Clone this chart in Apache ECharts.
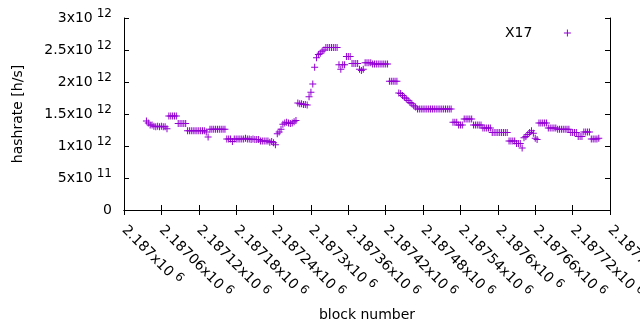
<!DOCTYPE html>
<html>
<head>
<meta charset="utf-8">
<script src="https://cdn.jsdelivr.net/npm/echarts@6/dist/echarts.min.js"></script>
<style>
html,body{margin:0;padding:0;background:#fff}
#chart{width:640px;height:330px}
</style>
</head>
<body>
<div id="chart"></div>
<script>
// block numbers: one sample every 3 blocks from firstBlock
var firstBlock = 2187036;
var blockStep = 3;
// hashrate in units of 10^12 h/s
var hashrate = [
	1.39, 1.36, 1.33, 1.33,
	1.31, 1.30, 1.31, 1.30, 1.31, 1.30, 1.30, 1.27,
	1.47, 1.47, 1.47, 1.47, 1.47,
	1.35, 1.35, 1.35, 1.35, 1.35,
	1.24, 1.24, 1.24, 1.24, 1.24, 1.24, 1.24, 1.24, 1.24, 1.24, 1.22, 1.14,
	1.26, 1.26, 1.26, 1.26, 1.26, 1.26, 1.26, 1.26, 1.26,
	1.11, 1.11, 1.11, 1.07, 1.11, 1.11, 1.11, 1.11, 1.11,
	1.11, 1.12, 1.11, 1.11, 1.10, 1.11, 1.10, 1.10, 1.10,
	1.08, 1.08, 1.08, 1.08, 1.08,
	1.06, 1.07, 1.05, 1.02,
	1.19, 1.22, 1.26,
	1.34, 1.36, 1.37, 1.36, 1.35, 1.36, 1.38, 1.40,
	1.67, 1.66, 1.66, 1.65, 1.65, 1.64,
	1.77, 1.84, 1.97, 2.23, 2.38, 2.43, 2.45, 2.48, 2.50,
	2.54, 2.54, 2.54, 2.54, 2.54, 2.54, 2.54,
	2.27, 2.20, 2.27, 2.27,
	2.40, 2.40, 2.40,
	2.29, 2.29, 2.29, 2.29,
	2.20, 2.18, 2.20,
	2.30, 2.30, 2.30, 2.30,
	2.28, 2.28, 2.28, 2.28, 2.28, 2.28, 2.28, 2.28, 2.28,
	2.01, 2.01, 2.01, 2.01, 2.01,
	1.83, 1.82, 1.79, 1.76, 1.74, 1.71, 1.68, 1.66, 1.63, 1.61,
	1.58, 1.58, 1.58, 1.58, 1.58, 1.58, 1.58, 1.58, 1.58, 1.58,
	1.58, 1.58, 1.58, 1.58, 1.58, 1.58, 1.58, 1.58, 1.58,
	1.37, 1.37, 1.37,
	1.33, 1.33, 1.33,
	1.42, 1.42, 1.42, 1.42, 1.42,
	1.33, 1.33, 1.33, 1.33, 1.33,
	1.28, 1.28, 1.28, 1.28, 1.28,
	1.21, 1.21, 1.21, 1.21, 1.21, 1.21, 1.21, 1.21, 1.21,
	1.08, 1.08, 1.08, 1.08,
	1.04, 1.04, 1.04, 0.97,
	1.13, 1.15, 1.18, 1.21, 1.24, 1.20, 1.12, 1.10,
	1.36, 1.36, 1.36, 1.36, 1.36,
	1.28, 1.28, 1.28, 1.28, 1.28,
	1.26, 1.26, 1.26, 1.26, 1.26, 1.26, 1.26,
	1.21, 1.21, 1.21, 1.21,
	1.15, 1.15, 1.15,
	1.22, 1.22, 1.22, 1.22,
	1.11, 1.11, 1.11, 1.11, 1.12
];
var seriesName = "X17";
var xMin = 2187000, xMax = 2187780, xStep = 60;
var yMin = 0, yMax = 3e12, yStep = 5e11;

var plusIcon = "path://M3,0h1v3h3v1h-3v3h-1v-3h-3v-1h3z";
var fontName = "DejaVu Sans";

// gnuplot style "2.5x10^12"
function sciLabel(v){
	if(v === 0) return "{b|0}";
	var e = Math.floor(Math.log10(v) + 1e-9);
	var m = parseFloat((v / Math.pow(10, e)).toFixed(6));
	return "{b|" + m + "x10}{s|" + e + "}";
}
var labelRich = {
	b:{fontFamily:fontName, fontSize:14, color:"#000", lineHeight:20},
	s:{fontFamily:fontName, fontSize:12, color:"#000", lineHeight:12, verticalAlign:"top", padding:[0,0,0,4]}
};

var points = [];
for(var i = 0; i < hashrate.length; i++){
	points.push([firstBlock + i * blockStep, hashrate[i] * 1e12]);
}

var dom = document.getElementById("chart");
var myChart = echarts.init(dom, null, {renderer:"canvas"});
var axisLine = {show:true, lineStyle:{color:"#000", width:1}};
var option = {
	animation:false,
	backgroundColor:"#fff",
	textStyle:{fontFamily:fontName},
	grid:{left:124, right:30, top:18, bottom:120, containLabel:false, outerBoundsMode:"none"},
	legend:{
		left:500, top:21,
		align:"right",
		itemWidth:60, itemHeight:7, itemGap:0,
		textStyle:{fontFamily:fontName, fontSize:14, color:"#000"},
		data:[{name:seriesName, icon:plusIcon}]
	},
	xAxis:[{
		type:"value", min:xMin, max:xMax, interval:xStep,
		name:"block number", nameLocation:"middle", nameGap:98,
		nameTextStyle:{fontFamily:fontName, fontSize:14, color:"#000"},
		axisLine:axisLine,
		axisTick:{inside:true, length:5, lineStyle:{color:"#000"}},
		splitLine:{show:false},
		axisLabel:{rotate:-45, margin:18, formatter:sciLabel, rich:labelRich}
	},{
		type:"value", position:"top", min:xMin, max:xMax, interval:xStep,
		axisLine:axisLine,
		axisTick:{inside:true, length:5, lineStyle:{color:"#000"}},
		axisLabel:{show:false}, splitLine:{show:false}
	}],
	yAxis:[{
		type:"value", min:yMin, max:yMax, interval:yStep,
		name:"hashrate [h/s]", nameLocation:"middle", nameGap:99,
		nameTextStyle:{fontFamily:fontName, fontSize:14, color:"#000"},
		axisLine:axisLine,
		axisTick:{inside:true, length:5, lineStyle:{color:"#000"}},
		splitLine:{show:false},
		axisLabel:{margin:12, formatter:sciLabel, rich:labelRich}
	},{
		type:"value", position:"right", min:yMin, max:yMax, interval:yStep,
		axisLine:axisLine,
		axisTick:{inside:true, length:5, lineStyle:{color:"#000"}},
		axisLabel:{show:false}, splitLine:{show:false}
	}],
	series:[{
		name:seriesName,
		type:"scatter",
		symbol:plusIcon,
		symbolSize:7,
		symbolKeepAspect:true,
		itemStyle:{color:"#9400d3", opacity:1},
		emphasis:{disabled:true},
		data:points
	}]
};
myChart.setOption(option);
</script>
</body>
</html>
